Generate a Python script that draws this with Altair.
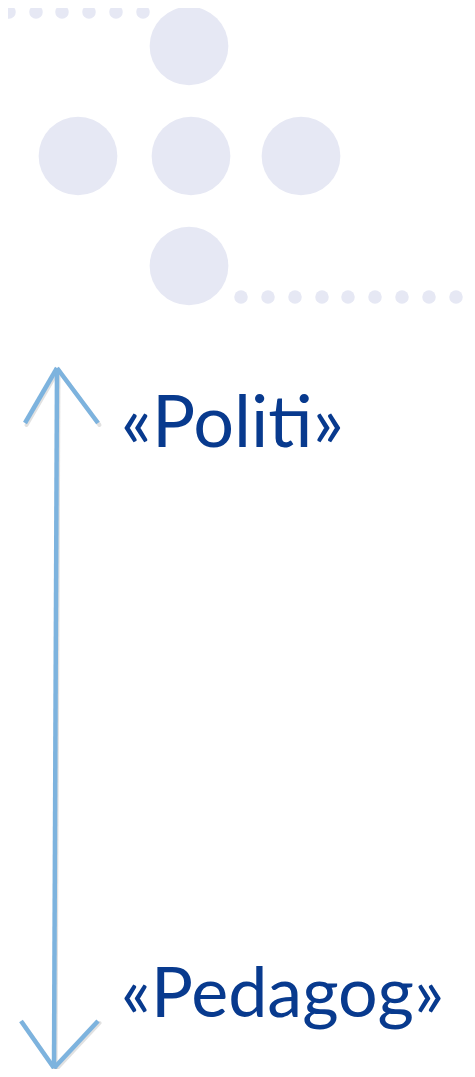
import altair as alt
import pandas as pd

# Decorative dots (image pixel coordinates)
small_dot_x = [9, 36, 62, 89, 116, 143, 241, 268, 295, 322, 348, 375, 402, 429, 456]
small_dot_y = [12, 12, 12, 12, 12, 12, 297, 297, 297, 297, 297, 297, 297, 297, 297]
big_dot_x = [189, 78, 191, 301, 189]
big_dot_y = [46, 156, 156, 156, 266]

# Arrow segments: start/end points
seg_x1 = [57, 57, 57, 54, 54]
seg_y1 = [368, 368, 368, 1068, 1068]
seg_x2 = [54, 25, 98, 21, 98]
seg_y2 = [1068, 423, 423, 1021, 1021]

# Labels
labels = ["«Politi»", "«Pedagog»"]
label_x = [121, 121]
label_y = [447, 1017]
label_size = [72, 70]

# chart placed at page offset (8, 8); keep page inside the window
X0, Y0 = 8, 8
CW, CH = 459, 1061
xs = alt.Scale(domain=[X0, X0 + CW], range=[0, CW], zero=False, nice=False)
ys = alt.Scale(domain=[Y0 + CH, Y0], range=[CH, 0], zero=False, nice=False)

dots = pd.DataFrame({
    "x": small_dot_x + big_dot_x,
    "y": small_dot_y + big_dot_y,
    "s": [182] * len(small_dot_x) + [6200] * len(big_dot_x),
})
segs = pd.DataFrame({"x": seg_x1, "y": seg_y1, "x2": seg_x2, "y2": seg_y2})
shadow = segs.copy()
shadow[["x", "x2"]] += 1.5
shadow[["y", "y2"]] += 2
txt = pd.DataFrame({"t": labels, "x": label_x, "y": label_y, "fs": label_size})

noaxis = dict(axis=None)
dot_layer = alt.Chart(dots).mark_circle(color="#E6E8F4", opacity=1).encode(
    x=alt.X("x:Q", scale=xs, **noaxis),
    y=alt.Y("y:Q", scale=ys, **noaxis),
    size=alt.Size("s:Q", scale=None, legend=None),
)
shadow_layer = alt.Chart(shadow).mark_rule(color="#9a9a9a", strokeWidth=4, opacity=0.3, strokeCap="round").encode(
    x=alt.X("x:Q", scale=xs, **noaxis), y=alt.Y("y:Q", scale=ys, **noaxis),
    x2="x2:Q", y2="y2:Q",
)
arrow_layer = alt.Chart(segs).mark_rule(color="#7DB3DE", strokeWidth=4.5, strokeCap="butt").encode(
    x=alt.X("x:Q", scale=xs, **noaxis), y=alt.Y("y:Q", scale=ys, **noaxis),
    x2="x2:Q", y2="y2:Q",
)
text_layer = alt.Chart(txt).mark_text(
    align="left", baseline="alphabetic", font="Lato", color="#083A8E"
).encode(
    x=alt.X("x:Q", scale=xs, **noaxis), y=alt.Y("y:Q", scale=ys, **noaxis),
    text="t:N", size=alt.Size("fs:Q", scale=None, legend=None),
)

chart = alt.layer(dot_layer, shadow_layer, arrow_layer, text_layer).properties(
    width=CW, height=CH, padding=0, autosize=alt.AutoSizeParams(type="none"),
    background="white",
).configure_view(stroke=None)

chart.save("out.html", embed_options={"renderer": "svg", "actions": False})
